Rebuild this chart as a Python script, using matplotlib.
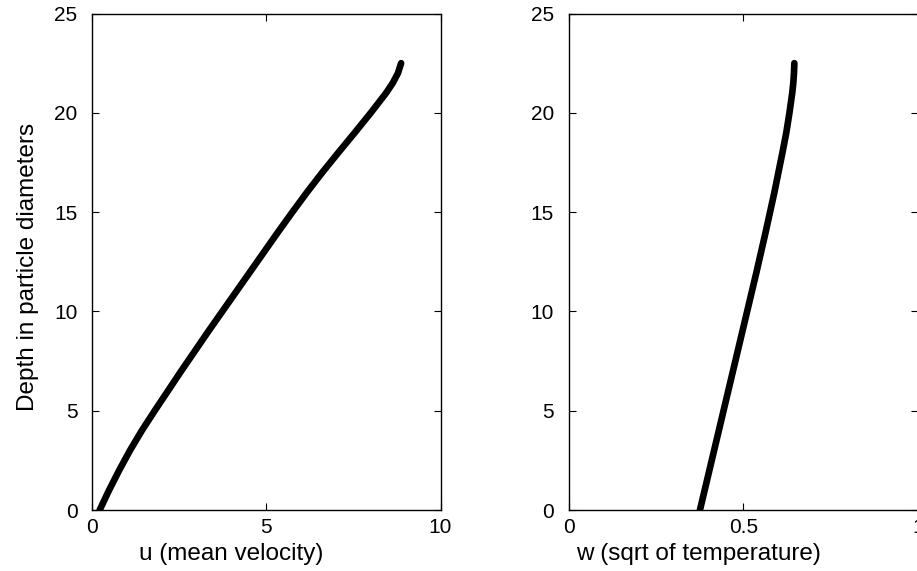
import matplotlib
matplotlib.use("Agg")
import matplotlib.pyplot as plt

plt.rcParams['font.family'] = ['Liberation Sans', 'DejaVu Sans']

# depth profile (in particle diameters) with mean velocity u
depth_u = [0, 1, 2, 3, 4, 5, 6, 7, 8, 9, 10, 11, 12, 13, 14, 15, 16, 17, 18,
           19, 20, 21, 21.5, 22, 22.5]
u_vals = [0.22, 0.49, 0.78, 1.09, 1.43, 1.80, 2.18, 2.56, 2.95, 3.34, 3.74,
          4.14, 4.54, 4.94, 5.34, 5.75, 6.17, 6.61, 7.07, 7.54, 8.00, 8.44,
          8.63, 8.78, 8.87]

# depth profile with w = sqrt of granular temperature
depth_w = [0, 2, 4, 6, 8, 10, 12, 14, 16, 18, 19, 20, 20.5, 21, 21.5, 22, 22.5]
w_vals = [0.376, 0.403, 0.430, 0.457, 0.484, 0.511, 0.538, 0.564, 0.589,
          0.612, 0.623, 0.632, 0.636, 0.640, 0.643, 0.645, 0.646]

W, H = 917, 571
fig = plt.figure(figsize=(W / 100, H / 100), dpi=100)

bottom = (H - 510) / H
height = (510 - 13.5) / H
ax1 = fig.add_axes([92 / W, bottom, 348.5 / W, height])
ax2 = fig.add_axes([568.5 / W, bottom, 349.6 / W, height])

LABEL_SIZE = 17.5
TICK_SIZE = 15


def style(ax):
    ax.tick_params(direction='in', length=5, width=0.8, top=True, right=True,
                   pad=10.5, labelsize=TICK_SIZE)
    ax.tick_params(axis='x', pad=6)
    for s in ax.spines.values():
        s.set_linewidth(1.0)


ax1.plot(u_vals, depth_u, color='black', lw=4.8, solid_capstyle='round')
ax1.set_xlim(0, 10)
ax1.set_ylim(0, 25)
ax1.set_xticks([0, 5, 10])
ax1.set_yticks([0, 5, 10, 15, 20, 25])
ax1.set_xlabel('u (mean velocity)', fontsize=LABEL_SIZE)
ax1.set_ylabel('Depth in particle diameters', fontsize=LABEL_SIZE)
ax1.xaxis.set_label_coords(0.40, -0.066)
ax1.yaxis.set_label_coords(-0.153, 0.49)
style(ax1)

ax2.plot(w_vals, depth_w, color='black', lw=4.8, solid_capstyle='round')
ax2.set_xlim(0, 1)
ax2.set_ylim(0, 25)
ax2.set_xticks([0, 0.5, 1])
ax2.set_xticklabels(['0', '0.5', '1'])
ax2.set_yticks([0, 5, 10, 15, 20, 25])
ax2.set_xlabel('w (sqrt of temperature)', fontsize=LABEL_SIZE)
ax2.xaxis.set_label_coords(0.372, -0.066)
style(ax2)

fig.savefig('out.png', dpi=100)
